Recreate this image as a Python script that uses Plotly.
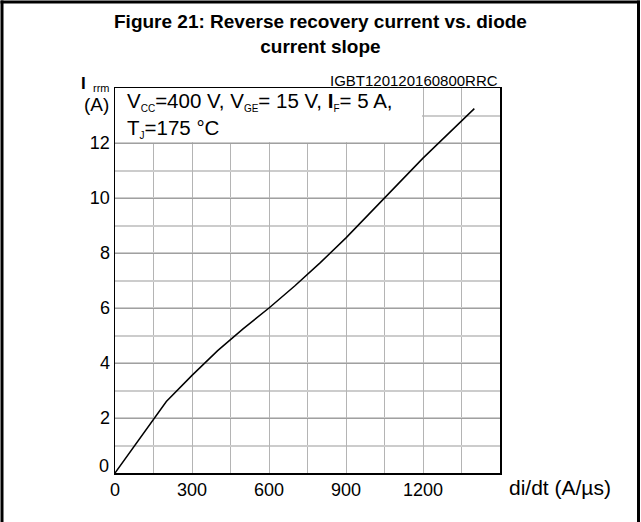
import plotly.graph_objects as go

# ---- data ----
di_dt = [0, 200, 300, 400, 500, 600, 700, 800, 900, 1050, 1200, 1400]
i_rrm = [0, 2.6, 3.55, 4.45, 5.25, 6.0, 6.8, 7.65, 8.55, 10.0, 11.45, 13.25]

x_ticks = [0, 300, 600, 900, 1200]
y_ticks = [2, 4, 6, 8, 10, 12]
x_range = [0, 1500]
y_range = [0, 14]

title_text = "<b>Figure 21: Reverse recovery current vs. diode<br>current slope</b>"
cond_text = ("V<sub><span style='font-size:10px'>CC</span></sub>=400 V, "
             "V<sub><span style='font-size:10px'>GE</span></sub>= 15 V, "
             "<b>I</b><sub><span style='font-size:10px'>F</span></sub>= 5 A,<br>"
             "T<sub><span style='font-size:10px'>J</span></sub>=175 °C")
code_text = "IGBT120120160800RRC"
x_label = "di/dt (A/µs)"

FONT = "Arial, Liberation Sans, sans-serif"
W, H = 641, 522
L, R, T, B = 115, 141, 88, 49
PW, PH = W - L - R, H - T - B

def px_x(px):
    return (px - L) / PW

def px_y(py):
    return (H - B - py) / PH

fig = go.Figure()
fig.add_trace(go.Scatter(x=di_dt, y=i_rrm, mode="lines",
                         line=dict(color="black", width=1.5),
                         hoverinfo="skip", showlegend=False))

fig.update_layout(
    width=W, height=H,
    margin=dict(l=L, r=R, t=T, b=B, autoexpand=False),
    paper_bgcolor="white", plot_bgcolor="white",
    font=dict(family=FONT, color="black", size=18),
    showlegend=False,
    xaxis=dict(range=x_range, tickvals=x_ticks, ticktext=[str(v) for v in x_ticks],
               showline=True, mirror=True, linecolor="black", linewidth=1.5,
               ticks="", showgrid=True, gridcolor="#b4b4b4", gridwidth=1,
               zeroline=False, tickfont=dict(size=18), automargin=False,
               minor=dict(dtick=150, showgrid=True, gridcolor="#b4b4b4", gridwidth=1)),
    yaxis=dict(range=y_range, tickvals=y_ticks, ticktext=[str(v) for v in y_ticks],
               showline=True, mirror=True, linecolor="black", linewidth=1.5,
               ticks="", showgrid=True, gridcolor="#a0a0a0", gridwidth=1,
               zeroline=False, tickfont=dict(size=18), automargin=False,
               minor=dict(dtick=1, showgrid=True, gridcolor="#cccccc", gridwidth=2)),
)

# white panel behind the test-condition text
fig.add_shape(type="rect", xref="x", yref="y", x0=0, x1=1196, y0=12.04, y1=14,
              fillcolor="white", line=dict(width=0), layer="between")

# outer frame (left, top, right edges)
frame = dict(color="black", width=3)
fig.add_shape(type="line", xref="paper", yref="paper",
              x0=px_x(2), x1=px_x(2), y0=px_y(530), y1=px_y(0.5), line=frame)
fig.add_shape(type="line", xref="paper", yref="paper",
              x0=px_x(0.5), x1=px_x(640), y0=px_y(2), y1=px_y(2), line=frame)
fig.add_shape(type="line", xref="paper", yref="paper",
              x0=px_x(638.5), x1=px_x(638.5), y0=px_y(530), y1=px_y(0.5), line=frame)

# title
fig.add_annotation(text=title_text, xref="paper", yref="paper",
                   x=px_x(320.5), y=px_y(8.5), xanchor="center", yanchor="top",
                   showarrow=False, align="center",
                   font=dict(family=FONT, size=19, color="black"))
# conditions text
fig.add_annotation(text=cond_text, xref="x", yref="paper", x=0, y=1,
                   xanchor="left", yanchor="top", xshift=10, yshift=1,
                   showarrow=False, align="left",
                   font=dict(family=FONT, size=20.5, color="black"))
# code text
fig.add_annotation(text=code_text, xref="paper", yref="paper", x=1, y=1,
                   xanchor="right", yanchor="bottom", yshift=-3,
                   showarrow=False, font=dict(family=FONT, size=15, color="black"))
# y-axis "0" label (raised)
fig.add_annotation(text="0", xref="paper", yref="y", x=0, y=0,
                   xanchor="right", yanchor="middle", xshift=-4, yshift=7,
                   showarrow=False, font=dict(family=FONT, size=18, color="black"))
# y-axis title I_rrm (A)
fig.add_annotation(text="<b>I</b>", xref="paper", yref="paper", x=0, y=1,
                   xanchor="left", yanchor="middle", xshift=-36, yshift=5,
                   showarrow=False, font=dict(family=FONT, size=17, color="black"))
fig.add_annotation(text="rrm", xref="paper", yref="paper", x=0, y=1,
                   xanchor="right", yanchor="middle", xshift=-3, yshift=0,
                   showarrow=False, font=dict(family=FONT, size=11, color="black"))
fig.add_annotation(text="(A)", xref="paper", yref="paper", x=0, y=1,
                   xanchor="right", yanchor="middle", xshift=-4, yshift=-16,
                   showarrow=False, font=dict(family=FONT, size=19, color="black"))
# x-axis title
fig.add_annotation(text=x_label, xref="paper", yref="paper", x=1, y=0,
                   xanchor="left", yanchor="top", xshift=7, yshift=-1,
                   showarrow=False, font=dict(family=FONT, size=21, color="black"))

fig.write_html(
    "out.html",
    config={"displayModeBar": False, "staticPlot": True},
    post_script=("document.documentElement.style.margin='0';"
                 "document.documentElement.style.overflow='hidden';"
                 "document.body.style.margin='0';"
                 "document.body.style.overflow='hidden';"),
)
